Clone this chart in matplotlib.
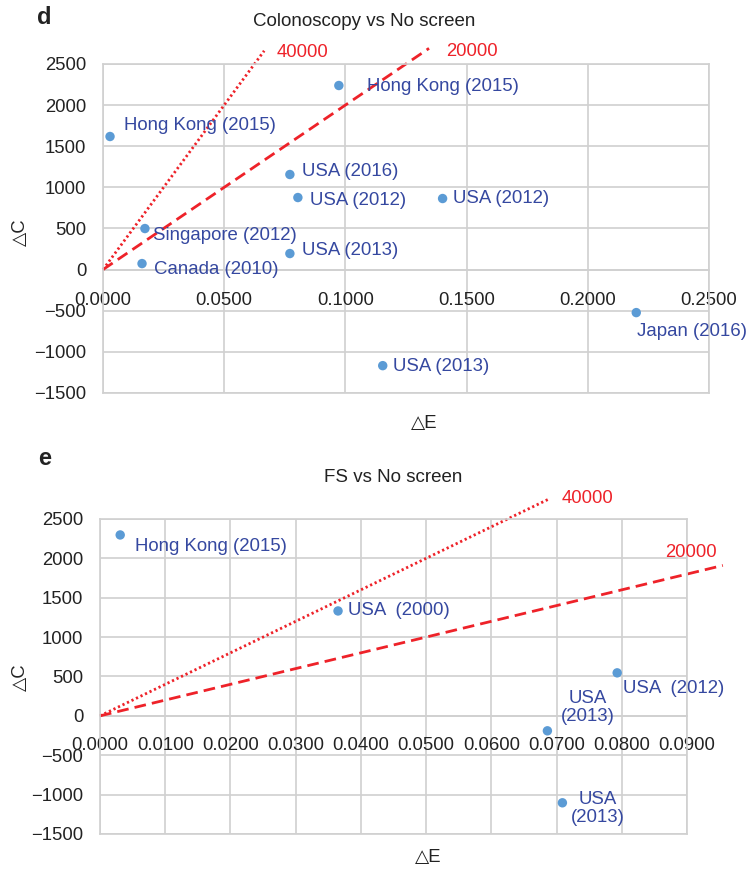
import matplotlib
matplotlib.use('Agg')
import matplotlib.pyplot as plt

plt.rcParams['font.family'] = ['Liberation Sans', 'DejaVu Sans']

DOT   = '#5B9BD5'
LBL   = '#3548A0'
RED   = '#EE2229'
GRID  = '#D0D0D0'
TEXT  = '#222222'

# panel d: Colonoscopy vs No screen
d_e      = [0.0029, 0.0973, 0.0771, 0.0804, 0.1401, 0.0173, 0.0161, 0.0771, 0.2200, 0.1154]
d_c      = [1618, 2238, 1156, 876, 864, 499, 73, 195, -523, -1168]
d_labels = ['Hong Kong (2015)', 'Hong Kong (2015)', 'USA (2016)', 'USA (2012)', 'USA (2012)',
            'Singapore (2012)', 'Canada (2010)', 'USA (2013)', 'Japan (2016)', 'USA (2013)']
d_off    = [(14, 11), (28, -1), (12, 3), (12, -3), (10, 0), (8, -7), (12, -6), (12, 3), (1, -19), (10, -1)]
d_ha     = ['left'] * 10
d_xticks = [0.0, 0.05, 0.10, 0.15, 0.20, 0.25]
d_wtp_end = {40000: 0.0665, 20000: 0.1345}

# panel e: FS vs No screen
e_e      = [0.0031, 0.0365, 0.0793, 0.0686, 0.0709]
e_c      = [2297, 1332, 546, -190, -1104]
e_labels = ['Hong Kong (2015)', 'USA  (2000)', 'USA  (2012)', 'USA\n(2013)', 'USA\n(2013)']
e_off    = [(15, -12), (10, 0), (6, -16), (40, 23), (35, -6)]
e_ha     = ['left', 'left', 'left', 'center', 'center']
e_xticks = [0.0, 0.01, 0.02, 0.03, 0.04, 0.05, 0.06, 0.07, 0.08, 0.09]
e_wtp_end = {40000: 0.069, 20000: 0.0955}

yticks = [-1500, -1000, -500, 0, 500, 1000, 1500, 2000, 2500]

fig = plt.figure(figsize=(7.54, 8.69), dpi=100)
ax1 = fig.add_axes([0.1366, 0.5478, 0.8037, 0.3786])
ax2 = fig.add_axes([0.1326, 0.0403, 0.7785, 0.3625])


def style(ax, xticks, xpad):
    ax.set_xlim(xticks[0], xticks[-1])
    ax.set_ylim(-1500, 2500)
    ax.set_xticks(xticks)
    ax.set_yticks(yticks)
    ax.set_xticklabels([f'{t:.4f}' for t in xticks])
    ax.set_yticklabels([str(t).replace('-', '\u2212') for t in yticks])
    ax.grid(color=GRID, lw=1.2, zorder=0)
    for sp in ax.spines.values():
        sp.set_color(GRID)
        sp.set_linewidth(1.2)
    ax.spines['bottom'].set_position(('data', 0))
    ax.spines['bottom'].set_zorder(0)
    ax.tick_params(length=0, labelsize=13.3, colors=TEXT)
    ax.tick_params(axis='x', pad=xpad)
    ax.tick_params(axis='y', pad=12)
    # bottom frame line at -1500
    ax.axhline(-1500, color=GRID, lw=1.2, zorder=0, clip_on=False)


def wtp_lines(ax, ends, label_pos):
    for wtp, ls in [(40000, (0, (0.8, 1.0))), (20000, (0, (4.2, 2.2)))]:
        x_end = ends[wtp]
        ax.plot([0, x_end], [0, wtp * x_end], color=RED, lw=2.0, ls=ls,
                clip_on=False, zorder=2)
        ax.annotate(str(wtp), xy=(x_end, wtp * x_end), xytext=label_pos[wtp],
                    textcoords='offset pixels', color=RED, fontsize=13.3,
                    ha='left', va='center', annotation_clip=False)


def points(ax, xs, ys, labels, offs, has):
    ax.scatter(xs, ys, s=46, color=DOT, zorder=4, edgecolors='none', clip_on=False)
    for x, y, lab, off, ha in zip(xs, ys, labels, offs, has):
        ax.annotate(lab, xy=(x, y), xytext=off,
                    textcoords='offset pixels', color=LBL, fontsize=13.4,
                    ha=ha, va='center', linespacing=1.1, zorder=5,
                    annotation_clip=False)


style(ax1, d_xticks, 16)
wtp_lines(ax1, d_wtp_end, {40000: (12, -2), 20000: (17, -3)})
points(ax1, d_e, d_c, d_labels, d_off, d_ha)

style(ax2, e_xticks, 15)
wtp_lines(ax2, e_wtp_end, {40000: (12, 0), 20000: (-58, 13)})
points(ax2, e_e, e_c, e_labels, e_off, e_ha)

# titles, panel letters and axis labels
fig.text(364 / 754, 1 - 22 / 869, 'Colonoscopy vs No screen', ha='center', va='center',
         fontsize=13.5, color=TEXT)
fig.text(393 / 754, 1 - 478 / 869, 'FS vs No screen', ha='center', va='center',
         fontsize=13.5, color=TEXT)
fig.text(37 / 754, 1 - 18 / 869, 'd', fontsize=17, fontweight='bold', va='center', color=TEXT)
fig.text(38 / 754, 1 - 458 / 869, 'e', fontsize=17, fontweight='bold', va='center', color=TEXT)

fig.text(20 / 754, 1 - 232 / 869, '\u25b3C', rotation=90, ha='center', va='center',
         fontsize=13.3, color=TEXT)
fig.text(20 / 754, 1 - 677 / 869, '\u25b3C', rotation=90, ha='center', va='center',
         fontsize=13.3, color=TEXT)
fig.text(424 / 754, 1 - 423 / 869, '\u25b3E', ha='center', va='center',
         fontsize=13.3, color=TEXT)
fig.text(428 / 754, 1 - 858 / 869, '\u25b3E', ha='center', va='center',
         fontsize=13.3, color=TEXT)

plt.savefig('out.png', dpi=100, facecolor='white')
plt.close()
